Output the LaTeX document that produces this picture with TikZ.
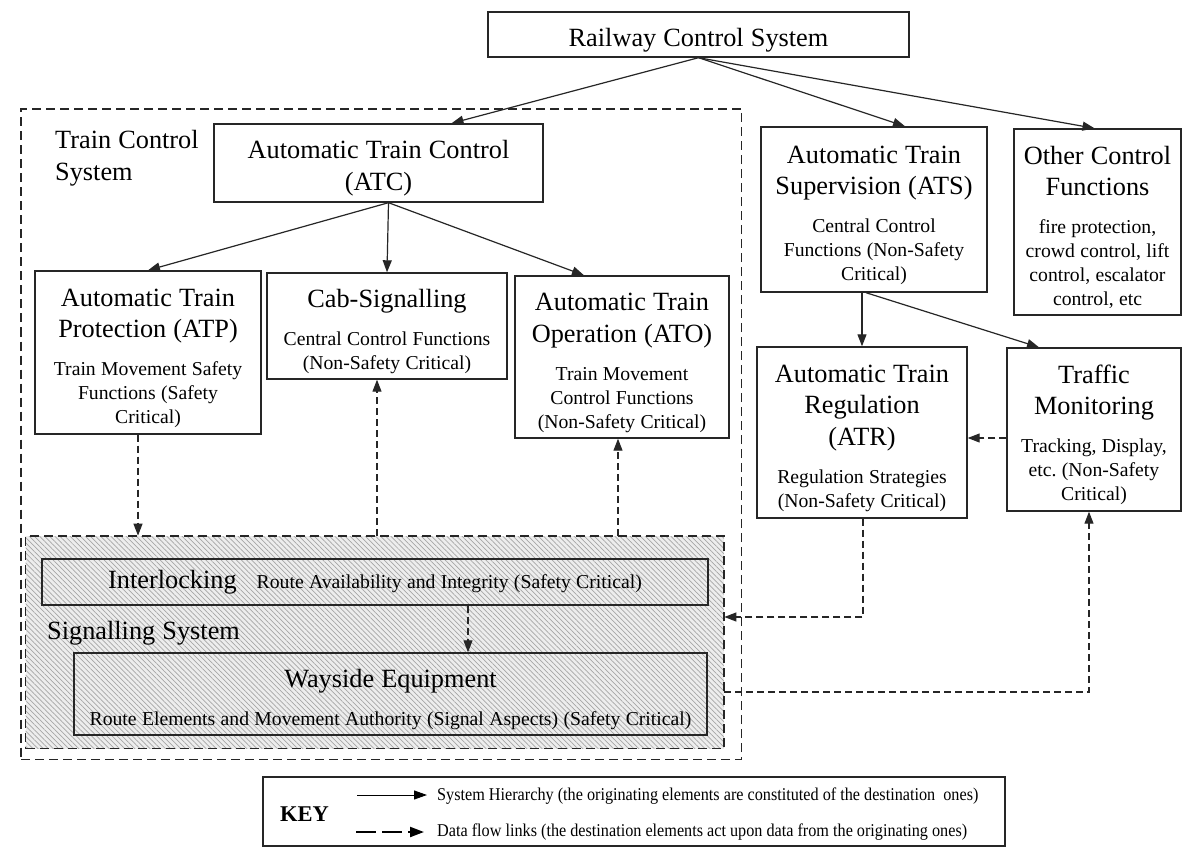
\documentclass[tikz,border=0pt]{standalone}
\usepackage{fontspec}
\setmainfont{Liberation Serif}
\usetikzlibrary{arrows.meta,patterns.meta,calc}
\newcommand\fL{\fontsize{26.3}{31.5}\selectfont\spaceskip=.27em\relax\xspaceskip=.27em\relax}
\newcommand\fS{\fontsize{19.7}{24}\selectfont\spaceskip=.27em\relax\xspaceskip=.27em\relax}
\newcommand\fK{\fontsize{18}{20}\selectfont}
\newcommand\subgap{\par\vspace{14pt}}
\tikzset{
  box/.style={draw=black!85, line width=1.4pt, inner xsep=4pt, inner ysep=2pt, align=center},
  hier/.style={draw=black!85, line width=1.2pt, -{Triangle[length=12pt,width=9pt]}},
  flow/.style={draw=black!85, line width=1.1pt, dash pattern=on 7pt off 4pt, -{Triangle[length=12pt,width=9pt]}},
  tcsbox/.style={draw=black!85, line width=1.1pt, dash pattern=on 9pt off 5pt},
  sigbox/.style={draw=black!85, line width=1.4pt, dash pattern=on 9pt off 5pt,
     preaction={fill=gray!14}, pattern={Lines[angle=-45,distance=3.6pt,line width=0.7pt]}, pattern color=gray!70},
  keydash/.style={draw=black, line width=2.2pt, dash pattern=on 20pt off 6pt, -{Triangle[length=14pt,width=10pt]}},
  keysolid/.style={draw=black, line width=1pt, -{Triangle[length=13pt,width=9pt]}},
}
\newcommand\bx[6]{%
  \pgfmathsetmacro\bw{#4-#2}\pgfmathsetmacro\bh{#5-#3}%
  \pgfmathsetmacro\bcx{(#2+#4)/2}\pgfmathsetmacro\bcy{(#3+#5)/2}%
  \pgfmathsetmacro\btw{#4-#2-8}%
  \node[box, minimum width=\bw pt, minimum height=\bh pt, text width=\btw pt] (#1) at (\bcx,\bcy) {\rule{0pt}{29pt}#6\par};}
\begin{document}
\begin{tikzpicture}[x=1pt,y=-1pt]
\useasboundingbox (0,0) rectangle (1187,848);
\fill[white] (0,0) rectangle (1187,848);
% outer Train Control System box
\node[tcsbox, minimum width=720.5pt, minimum height=650.5pt, inner sep=0] (tcs) at (381.25,434.25) {};
% Signalling system hatched box
\node[sigbox, minimum width=698.5pt, minimum height=212.5pt, inner sep=0] (sig) at (374.75,642.25) {};
% labels
\node[anchor=west, inner sep=0, align=left, font=\fL] (tcslbl) at (55,158) {Train Control\\System};
\node[anchor=west, inner sep=0, font=\fL] (siglbl) at (47,633) {Signalling System};
% boxes
\bx{rcs}{488}{12}{909}{57}{\fL Railway Control System}
\bx{atc}{214}{124}{543}{202}{\fL Automatic Train Control\\(ATC)}
\bx{atp}{35}{271}{261}{434}{\fL Automatic Train\\Protection (ATP)\subgap\fS Train Movement Safety\\Functions (Safety\\Critical)}
\bx{cab}{267}{273}{507}{379}{\fL Cab-Signalling\subgap\fS Central Control Functions\\(Non-Safety Critical)}
\bx{ato}{515}{276}{729}{438}{\fL Automatic Train\\Operation (ATO)\subgap\fS Train Movement\\Control Functions\\(Non-Safety Critical)}
\bx{ats}{761}{127}{987}{292}{\fL Automatic Train\\Supervision (ATS)\subgap\fS Central Control\\Functions (Non-Safety\\Critical)}
\bx{oth}{1014}{129}{1181}{315}{\fL Other Control\\Functions\subgap\fS fire protection,\\crowd control, lift\\control, escalator\\control, etc}
\bx{atr}{757}{347}{967}{518}{\fL Automatic Train\\Regulation\\(ATR)\subgap\fS Regulation Strategies\\(Non-Safety Critical)}
\bx{trf}{1007}{348}{1181}{511}{\fL Traffic\\Monitoring\subgap\fS Tracking, Display,\\etc. (Non-Safety\\Critical)}
\bx{way}{74}{653}{707}{735}{\fL Wayside Equipment\subgap\fS Route Elements and Movement Authority (Signal Aspects) (Safety Critical)}
\node[box, minimum width=666pt, minimum height=46pt, text width=658pt] (ilk) at (375,582) {\fL Interlocking\hspace{20pt}\fS Route Availability and Integrity (Safety Critical)\par};
% hierarchy arrows
\draw[hier] (rcs.south) -- ([xshift=73pt]atc.north);
\draw[hier] (rcs.south) -- ([xshift=31pt]ats.north);
\draw[hier] (rcs.south) -- ([xshift=-3pt]oth.north);
\draw[hier] ([xshift=10pt]atc.south) -- (atp.north);
\draw[hier] ([xshift=10pt]atc.south) -- (cab.north);
\draw[hier] ([xshift=10pt]atc.south) -- ([xshift=-38pt]ato.north);
\draw[hier] ([xshift=-12pt]ats.south) -- (atr.north);
\draw[hier] ([xshift=-8pt]ats.south) -- ([xshift=-55pt]trf.north);
% data flow arrows
\coordinate (y617) at (0,617);
\coordinate (y438) at (0,438);
\coordinate (y692) at (0,692);
\draw[flow] ([xshift=-10pt]atp.south) -- ([xshift=-10pt]atp.south |- sig.north);
\draw[flow] ([xshift=-10pt]cab.south |- sig.north) -- ([xshift=-10pt]cab.south);
\draw[flow] ([xshift=-4pt]ato.south |- sig.north) -- ([xshift=-4pt]ato.south);
\draw[flow] ([xshift=93pt]ilk.south) -- ([xshift=93pt]ilk.south |- way.north);
\draw[flow] ([xshift=1pt]atr.south) |- (sig.east |- y617);
\draw[flow] (trf.west |- y438) -- (atr.east |- y438);
\draw[flow] (sig.east |- y692) -| ([xshift=-5pt]trf.south);
% key
\node[draw=black!85, line width=1.3pt, minimum width=742pt, minimum height=69pt, inner sep=0] (key) at (634,811.5) {};
\node[anchor=west, inner sep=0, font=\bfseries\fontsize{22.5}{24}\selectfont] (keylbl) at (280,814) {KEY};
\coordinate (k1a) at (357,795);
\coordinate (k1b) at (427,795);
\coordinate (k2a) at (356,832);
\coordinate (k2b) at (424,832);
\draw[keysolid] (k1a) -- (k1b);
\draw[keydash] (k2a) -- (k2b);
\node[anchor=west, inner sep=0, font=\fK] (k1t) at (437,796) {\scalebox{0.9}[1]{System Hierarchy (the originating elements are constituted of the destination~ ones)}};
\node[anchor=west, inner sep=0, font=\fK] (k2t) at (437,832) {\scalebox{0.9}[1]{Data flow links (the destination elements act upon data from the originating ones)}};
\end{tikzpicture}
\end{document}
